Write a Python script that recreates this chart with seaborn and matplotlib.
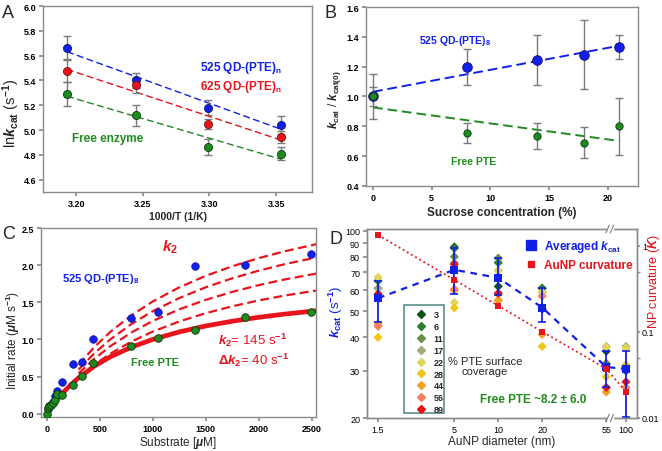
import numpy as np
import pandas as pd
import matplotlib
matplotlib.use('Agg')
import matplotlib.pyplot as plt
import seaborn as sns
from matplotlib.lines import Line2D
from matplotlib.patches import Rectangle
from matplotlib.transforms import blended_transform_factory

# ---- panel A data
inv_T = [3.193, 3.245, 3.299, 3.354]
lnk_525 = [5.665, 5.40, 5.18, 5.04]
err_525 = [0.095, 0.062, 0.06, 0.07]
lnk_625 = [5.475, 5.36, 5.045, 4.945]
err_625 = [0.09, 0.06, 0.04, 0.05]
lnk_free = [5.29, 5.12, 4.86, 4.81]
err_free = [0.095, 0.085, 0.065, 0.05]

# ---- panel B data
sucrose = [0, 8, 14, 18, 21]
ratio_qd = [1.0, 1.20, 1.245, 1.28, 1.33]
ratio_qd_err = [0.15, 0.12, 0.165, 0.23, 0.08]
ratio_free = [1.0, 0.755, 0.735, 0.69, 0.80]
ratio_free_err = [0.065, 0.07, 0.085, 0.105, 0.19]

# ---- panel C data
sub_qd = [10, 25, 40, 55, 75, 100, 140, 250, 330, 440, 790, 1050, 1400, 1870, 2490]
rate_qd = [0.06, 0.10, 0.12, 0.16, 0.24, 0.30, 0.42, 0.67, 0.69, 1.0, 1.29, 1.37, 1.99, 2.0, 2.15]
sub_free = [0, 10, 25, 40, 55, 75, 100, 140, 250, 330, 440, 790, 1050, 1400, 1870, 2490]
rate_free = [0.0, 0.07, 0.10, 0.12, 0.15, 0.19, 0.26, 0.245, 0.385, 0.505, 0.68, 0.91, 1.025, 1.13, 1.30, 1.375]
# fitted curves
fit_x = [0, 50, 100, 150, 225, 300, 450, 600, 800, 1000, 1250, 1500, 1750, 2000, 2250, 2550]
fit_k145 = [0, 0.103, 0.195, 0.278, 0.388, 0.483, 0.641, 0.766, 0.897, 1.0, 1.101, 1.181, 1.245, 1.298, 1.342, 1.387]
dash_x = [300, 450, 600, 800, 1000, 1250, 1500, 1750, 2000, 2250, 2550]
dash_k1 = [0.484, 0.661, 0.809, 0.972, 1.105, 1.242, 1.353, 1.446, 1.525, 1.592, 1.660]
dash_k2 = [0.542, 0.741, 0.909, 1.095, 1.248, 1.405, 1.533, 1.640, 1.731, 1.809, 1.889]
dash_k3 = [0.594, 0.815, 1.001, 1.209, 1.380, 1.557, 1.702, 1.823, 1.926, 2.015, 2.106]
dash_k4 = [0.657, 0.899, 1.102, 1.326, 1.511, 1.701, 1.856, 1.985, 2.095, 2.188, 2.285]

# ---- panel D data
diam = [1.5, 5, 10, 20, 55, 100]
coverage = ['3', '6', '11', '17', '22', '28', '44', '56', '89']
kcat_d1_5 = [58, 65, 61, 61, 67, 40, 45, 44, 58]
kcat_d5 = [87, 86, 80, 76, 54, 51.5, 60, 60.5, 75]
kcat_d10 = [62, 76, 79, 71, 71, 55, 55, 58, 58.5]
kcat_d20 = [61, 61, 59, 51, 59, 37, 41, 57, 51]
kcat_d55 = [35.5, 31.7, 32, 37, 36.8, 28.5, 25, 26, 26]
kcat_d100 = [30, 31, 31.5, 37, 36.5, 31.5, 26, 26, 27.3]
kcat_avg = [56, 71.5, 66.7, 51.7, 31, 30.5]
kcat_lo = [45.8, 58, 57.7, 45.8, 26.2, 20.2]
kcat_hi = [65, 86, 79, 61, 35.5, 35.5]
curvature = [1.33, 0.40, 0.20, 0.10, 0.037, 0.020]
cov_colors = ['#145214', '#2e7d2e', '#6b8f47', '#a3ab7a', '#e3d45a',
              '#f0c419', '#f5a020', '#f78060', '#ee1111']

BLUE = '#1020e6'
RED = '#e8141c'
GREEN = '#1f8a1f'
GTXT = '#1e8c1e'
GRAY = '#8a8a8a'

sns.set_theme(style='ticks')
plt.rcParams['font.family'] = ['Liberation Sans', 'DejaVu Sans']
plt.rcParams.update({
    'font.weight': 'bold',
    'mathtext.fontset': 'custom',
    'mathtext.rm': 'Liberation Sans:bold',
    'mathtext.it': 'Liberation Sans:italic:bold',
    'mathtext.bf': 'Liberation Sans:bold',
    'axes.edgecolor': GRAY,
    'axes.linewidth': 1.0,
    'xtick.color': GRAY, 'ytick.color': GRAY,
    'xtick.labelcolor': 'black', 'ytick.labelcolor': 'black',
    'xtick.major.size': 3, 'ytick.major.size': 3,
    'xtick.major.pad': 2, 'ytick.major.pad': 2,
    'xtick.labelsize': 6.5, 'ytick.labelsize': 6.5,
})

fig = plt.figure(figsize=(6.62, 4.52), dpi=100)
axA = fig.add_axes([0.065, 0.573, 0.4063, 0.4115])
axB = fig.add_axes([0.5529, 0.5863, 0.4109, 0.396])
axC = fig.add_axes([0.0619, 0.0752, 0.4154, 0.4181])
axD = fig.add_axes([0.5544, 0.073, 0.4079, 0.4181])

ebar = dict(fmt='none', ecolor='#7a7a7a', elinewidth=1, capsize=3, capthick=1, zorder=2)

# ================= A
for y, e, c, ec in [(lnk_525, err_525, BLUE, '#101070'),
                    (lnk_625, err_625, RED, '#701010'),
                    (lnk_free, err_free, GREEN, '#0a3a0a')]:
    sns.regplot(x=inv_T, y=y, ax=axA, scatter=False, ci=None, color=c,
                line_kws=dict(ls=(0, (5, 2.5)), lw=1.0))
    axA.errorbar(inv_T, y, yerr=e, **ebar)
    sns.scatterplot(x=inv_T, y=y, ax=axA, color=c, s=34, edgecolor=ec,
                    linewidth=0.6, zorder=3)
axA.set_xlim(3.175, 3.377)
axA.set_ylim(4.5, 6.0)
axA.set_xticks([3.20, 3.25, 3.30, 3.35])
axA.set_yticks(np.arange(4.6, 6.01, 0.2))
axA.xaxis.set_major_formatter(matplotlib.ticker.FormatStrFormatter('%.2f'))
axA.yaxis.set_major_formatter(matplotlib.ticker.FormatStrFormatter('%.1f'))
axA.set_xlabel('1000/T (1/K)', fontsize=7.5, weight='bold', labelpad=2)
axA.set_ylabel(r'ln$k_{\mathrm{cat}}$ (s$^{-1}$)', fontsize=10.5, weight='normal')
axA.yaxis.set_label_coords(-0.077, 0.43)
axA.text(0.584, 0.672, r'525 QD-(PTE)$_{\mathrm{n}}$', transform=axA.transAxes,
         color=BLUE, fontsize=8.5, va='center')
axA.text(0.584, 0.570, r'625 QD-(PTE)$_{\mathrm{n}}$', transform=axA.transAxes,
         color=RED, fontsize=8.5, va='center')
axA.text(0.108, 0.29, 'Free enzyme', transform=axA.transAxes,
         color=GTXT, fontsize=8.5, va='center')

# ================= B
for y, e, c, ec, s in [(ratio_qd, ratio_qd_err, BLUE, '#101070', 48),
                       (ratio_free, ratio_free_err, GREEN, '#0a3a0a', 28)]:
    sns.regplot(x=sucrose, y=y, ax=axB, scatter=False, ci=None, color=c,
                line_kws=dict(ls=(0, (5, 2.5)), lw=1.4))
    axB.errorbar(sucrose, y, yerr=e, **ebar)
    sns.scatterplot(x=sucrose, y=y, ax=axB, color=c, s=s, edgecolor=ec,
                    linewidth=0.6, zorder=3)
axB.set_xlim(-0.6, 22.6)
axB.set_ylim(0.4, 1.6)
axB.set_xticks([0, 5, 10, 15, 20])
axB.set_yticks(np.arange(0.4, 1.61, 0.2))
axB.yaxis.set_major_formatter(matplotlib.ticker.FormatStrFormatter('%.1f'))
axB.set_xlabel('Sucrose concentration (%)', fontsize=8.5, weight='bold', labelpad=3)
axB.set_ylabel(r'$k_{\mathrm{cat}}$ / $k_{\mathrm{cat(0)}}$', fontsize=8.5)
axB.yaxis.set_label_coords(-0.085, 0.486)
axB.text(0.195, 0.816, r'525 QD-(PTE)$_{8}$', transform=axB.transAxes,
         color=BLUE, fontsize=7.5, va='center')
axB.text(0.3125, 0.14, 'Free PTE', transform=axB.transAxes,
         color=GTXT, fontsize=7.5, va='center')

# ================= C
for yk in [dash_k1, dash_k2, dash_k3, dash_k4]:
    sns.lineplot(x=dash_x, y=yk, ax=axC, color=RED, lw=1.6,
                 linestyle=(0, (4, 2)), zorder=2)
sns.lineplot(x=fit_x, y=fit_k145, ax=axC, color=RED, lw=3.4, zorder=2)
sns.scatterplot(x=sub_qd, y=rate_qd, ax=axC, color=BLUE, s=30,
                edgecolor='#1010a0', linewidth=0.5, zorder=3)
sns.scatterplot(x=sub_free, y=rate_free, ax=axC, color=GREEN, s=30,
                edgecolor='#0a3a0a', linewidth=0.6, zorder=4)
axC.set_xlim(-55, 2540)
axC.set_ylim(-0.045, 2.5)
axC.set_xticks([0, 500, 1000, 1500, 2000, 2500])
axC.set_yticks(np.arange(0, 2.51, 0.5))
axC.yaxis.set_major_formatter(matplotlib.ticker.FormatStrFormatter('%.1f'))
axC.set_xlabel(r'Substrate [$\mu$M]', fontsize=8.5, labelpad=1)
axC.set_ylabel(r'Initial rate ($\mu$M s$^{-1}$)', fontsize=8.5)
axC.yaxis.set_label_coords(-0.068, 0.41)
axC.text(0.44, 0.905, r'$k_{2}$', transform=axC.transAxes, color=RED,
         fontsize=11, va='center')
axC.text(0.076, 0.735, r'525 QD-(PTE)$_{8}$', transform=axC.transAxes,
         color=BLUE, fontsize=8, va='center')
axC.text(0.327, 0.29, 'Free PTE', transform=axC.transAxes,
         color=GTXT, fontsize=8, va='center')
axC.text(0.644, 0.41, r'$k_{2}$= 145 s$^{-1}$', transform=axC.transAxes,
         color=RED, fontsize=9.5, weight='normal', va='center')
axC.text(0.644, 0.305, r'$\mathit{\Delta}k_{2}$= 40 s$^{-1}$', transform=axC.transAxes,
         color=RED, fontsize=9.5, weight='normal', va='center')

# ================= D
B55 = np.log10(55)
SQ = 0.52


def fwd(x):
    lx = np.log10(np.clip(np.asarray(x, float), 1e-3, None))
    return np.where(lx > B55, B55 + (lx - B55) * SQ, lx)


def inv(y):
    y = np.asarray(y, float)
    return np.where(y > B55, 10 ** (B55 + (y - B55) / SQ), 10 ** y)


axD.set_xscale('function', functions=(fwd, inv))
axD.set_yscale('log')
rows = []
for dd, vals in zip(diam, [kcat_d1_5, kcat_d5, kcat_d10, kcat_d20, kcat_d55, kcat_d100]):
    for cv, v in zip(coverage, vals):
        rows.append((dd, v, cv))
df_cov = pd.DataFrame(rows, columns=['diameter', 'kcat', 'coverage'])
sns.scatterplot(data=df_cov, x='diameter', y='kcat', hue='coverage',
                hue_order=coverage, palette=dict(zip(coverage, cov_colors)),
                marker='D', s=22, linewidth=0, legend=False, ax=axD, zorder=2)
sns.lineplot(x=diam, y=kcat_avg, ax=axD, color=BLUE, lw=1.6,
             linestyle=(0, (3, 2.5)), zorder=3)
axD.errorbar(diam, kcat_avg,
             yerr=[np.subtract(kcat_avg, kcat_lo), np.subtract(kcat_hi, kcat_avg)],
             fmt='none', ecolor=BLUE, elinewidth=1.3, capsize=3, capthick=1.2, zorder=3)
sns.scatterplot(x=diam, y=kcat_avg, ax=axD, color=BLUE, marker='s', s=26,
                linewidth=0, zorder=4)
axD.set_xlim(1.26, 140)
axD.set_ylim(20, 101.5)
axD.set_xticks(diam)
axD.set_xticklabels(['1.5', '5', '10', '20', '55', '100'], weight='normal')
axD.set_yticks([20, 30, 40, 50, 60, 70, 80, 90, 100])
axD.set_yticklabels(['20', '30', '40', '50', '60', '70', '80', '90', '100'], weight='normal')
axD.yaxis.set_minor_locator(matplotlib.ticker.NullLocator())
axD.xaxis.set_minor_locator(matplotlib.ticker.NullLocator())
axD.set_xlabel('AuNP diameter (nm)', fontsize=8.5, labelpad=1)
axD.set_ylabel(r'$k_{\mathrm{cat}}$ (s$^{-1}$)', fontsize=9.5, color=BLUE)
axD.yaxis.set_label_coords(-0.081, 0.57)

axD2 = axD.twinx()
axD2.set_yscale('log')
sns.lineplot(x=diam, y=curvature, ax=axD2, color=RED, lw=1.3, linestyle=':')
sns.scatterplot(x=diam, y=curvature, ax=axD2, color=RED, marker='s', s=15,
                linewidth=0, zorder=4)
axD2.set_ylim(0.0099, 1.56)
axD2.set_yticks([0.01, 0.1, 1])
axD2.set_yticklabels(['0.01', '0.1', '1'], weight='normal')
axD2.set_yticks([0.05, 0.5], minor=True)
axD2.set_yticklabels(['', ''], minor=True)
axD2.tick_params(axis='y', which='major', pad=1, length=2.5)
axD2.tick_params(axis='y', which='minor', length=2, color=GRAY)
axD2.set_ylabel(r'NP curvature ($K$)', fontsize=9, color=RED)
axD2.yaxis.set_label_coords(1.034, 0.73)

# axis break marks
tb = blended_transform_factory(axD.transAxes, axD.transAxes)
for yb in [0, 1]:
    axD2.plot([0.893, 0.909], [yb, yb], transform=tb, color='white', lw=2.5,
              clip_on=False, zorder=6)
    for xb in [0.891, 0.907]:
        axD2.plot([xb - 0.006, xb + 0.006], [yb - 0.02, yb + 0.02], transform=tb,
                  color=GRAY, lw=0.9, clip_on=False, zorder=7)

# legends / labels
hd = [Line2D([], [], marker='s', ls='none', color=BLUE, ms=6.5),
      Line2D([], [], marker='s', ls='none', color=RED, ms=5)]
axD2.legend(hd, [r'Averaged $k_{\mathrm{cat}}$', 'AuNP curvature'], loc='upper left',
            bbox_to_anchor=(0.565, 0.975), frameon=False, labelcolor=[BLUE, RED],
            prop=dict(size=8.5, weight='bold'), handletextpad=0.5, borderaxespad=0,
            handlelength=1.2, labelspacing=0.4)
axD.add_patch(Rectangle((0.136, 0.025), 0.148, 0.575, transform=axD.transAxes,
                        facecolor='white', edgecolor='#5c8d8d', lw=1.2, zorder=5))
hc = [Line2D([], [], marker='D', ls='none', color=c, ms=4.5) for c in cov_colors]
lg = axD.legend(hc, coverage, loc='upper left', bbox_to_anchor=(0.163, 0.59),
                frameon=False, prop=dict(size=6.5, weight='bold'), labelspacing=0.32,
                handletextpad=0.6, borderaxespad=0, handlelength=1.5)
lg.set_zorder(6)
axD.text(0.436, 0.275, '% PTE surface\ncoverage', transform=axD.transAxes,
         fontsize=8, weight='normal', ha='center', va='center', linespacing=1.05,
         zorder=6)
axD.text(0.614, 0.10, u'Free PTE ~8.2 \u00b1 6.0', transform=axD.transAxes,
         color=GTXT, fontsize=8.5, ha='center', va='center')

# panel letters
for lab, x, y in [('A', 0.003, 0.99), ('B', 0.49, 0.99), ('C', 0.003, 0.5), ('D', 0.498, 0.49)]:
    fig.text(x, y, lab, fontsize=13, weight='normal', va='top')

fig.savefig('out.png', dpi=100)
